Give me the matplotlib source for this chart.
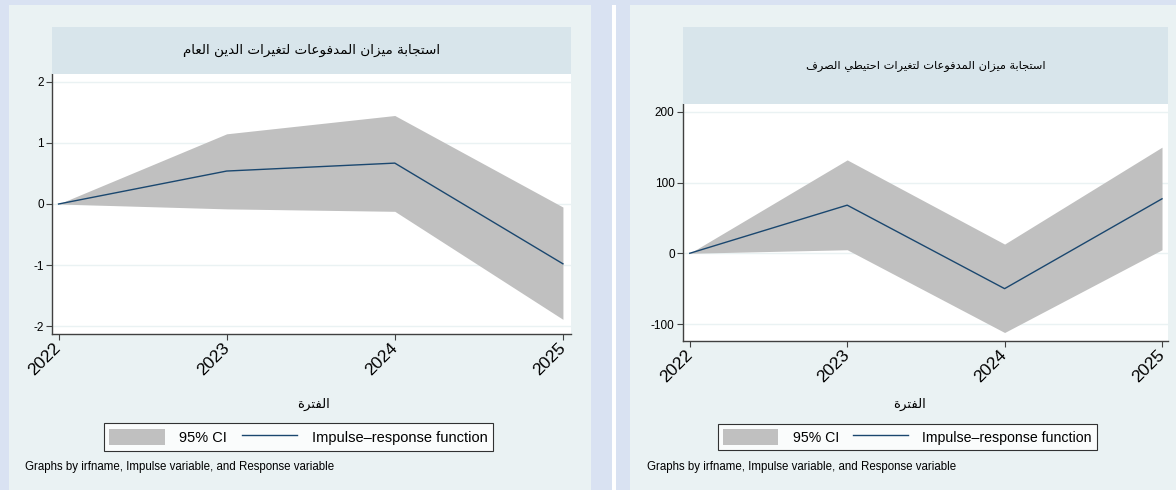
import matplotlib
matplotlib.use("Agg")
import matplotlib.pyplot as plt
from matplotlib.patches import Rectangle, Patch
from matplotlib.lines import Line2D

# ---------------- data ----------------
years = [2022, 2023, 2024, 2025]
year_labels = ["2022", "2023", "2024", "2025"]

debt_irf = [0.0, 0.54, 0.67, -0.98]
debt_lo = [0.0, -0.08, -0.12, -1.89]
debt_hi = [0.0, 1.15, 1.45, -0.05]
debt_yticks = [-2, -1, 0, 1, 2]

res_irf = [0.0, 68, -50, 77]
res_lo = [0.0, 5, -112, 5]
res_hi = [0.0, 132, 13, 150]
res_yticks = [-100, 0, 100, 200]

title_debt = "استجابة ميزان المدفوعات لتغيرات الدين العام"
title_res = "استجابة ميزان المدفوعات لتغيرات احتيطي الصرف"
xlabel_text = "الفترة"
legend_labels = ["95% CI", "Impulse\u2013response function"]
note_text = "Graphs by irfname, Impulse variable, and Response variable"

# ---------------- Arabic shaping (presentation forms) ----------------
FORMS = {
    'ا': (0xFE8D, 0xFE8E, None, None),
    'ب': (0xFE8F, 0xFE90, 0xFE91, 0xFE92),
    'ة': (0xFE93, 0xFE94, None, None),
    'ت': (0xFE95, 0xFE96, 0xFE97, 0xFE98),
    'ج': (0xFE9D, 0xFE9E, 0xFE9F, 0xFEA0),
    'ح': (0xFEA1, 0xFEA2, 0xFEA3, 0xFEA4),
    'د': (0xFEA9, 0xFEAA, None, None),
    'ر': (0xFEAD, 0xFEAE, None, None),
    'ز': (0xFEAF, 0xFEB0, None, None),
    'س': (0xFEB1, 0xFEB2, 0xFEB3, 0xFEB4),
    'ص': (0xFEB9, 0xFEBA, 0xFEBB, 0xFEBC),
    'ط': (0xFEC1, 0xFEC2, 0xFEC3, 0xFEC4),
    'ع': (0xFEC9, 0xFECA, 0xFECB, 0xFECC),
    'غ': (0xFECD, 0xFECE, 0xFECF, 0xFED0),
    'ف': (0xFED1, 0xFED2, 0xFED3, 0xFED4),
    'ل': (0xFEDD, 0xFEDE, 0xFEDF, 0xFEE0),
    'م': (0xFEE1, 0xFEE2, 0xFEE3, 0xFEE4),
    'ن': (0xFEE5, 0xFEE6, 0xFEE7, 0xFEE8),
    'و': (0xFEED, 0xFEEE, None, None),
    'ي': (0xFEF1, 0xFEF2, 0xFEF3, 0xFEF4),
}


def shape_ar(text):
    out = []
    n = len(text)
    for i, ch in enumerate(text):
        if ch not in FORMS:
            out.append(ch)
            continue
        prev = text[i - 1] if i > 0 else None
        nxt = text[i + 1] if i < n - 1 else None
        prev_join = prev in FORMS and FORMS[prev][2] is not None
        dual = FORMS[ch][2] is not None
        next_join = dual and nxt in FORMS
        iso, fin, ini, med = FORMS[ch]
        if prev_join and next_join:
            cp = med
        elif prev_join:
            cp = fin
        elif next_join:
            cp = ini
        else:
            cp = iso
        out.append(chr(cp))
    return "".join(out)[::-1]


# ---------------- figure ----------------
W, H = 1176, 490
fig = plt.figure(figsize=(W / 100, H / 100), dpi=100)
fig.patch.set_facecolor("#d9e2f2")

LAT = ["Liberation Sans", "DejaVu Sans"]
AR = ["DejaVu Sans"]
PANEL = "#eaf2f3"
TBOX = "#d8e5eb"
GRID = "#eaf2f3"
CI = "#c0c0c0"
NAVY = "#1a476f"
AXC = "#404040"


def rect(x0, y0, x1, y1, color, z=0):
    fig.add_artist(Rectangle((x0 / W, 1 - y1 / H), (x1 - x0) / W, (y1 - y0) / H,
                             transform=fig.transFigure, facecolor=color,
                             edgecolor="none", zorder=z))


# panels
rect(9, 5, 591, 490, PANEL)
rect(612, 5, 616, 490, "white")
rect(630, 5, 1176, 490, PANEL)


def panel(px0, px1, tb_top, plot_top, plot_bot, title, irf, lo, hi, yticks,
          ylim, xlim, xlab_x, legend_cx, note_x, title_fs, leg_fs, hlen):
    rect(px0, tb_top, px1, plot_top, TBOX, z=1)
    fig.text((px0 + px1) / 2 / W, 1 - (tb_top + plot_top) / 2 / H, shape_ar(title),
             ha="center", va="center", fontsize=title_fs, family=AR, color="black")
    ax = fig.add_axes([px0 / W, 1 - plot_bot / H, (px1 - px0) / W, (plot_bot - plot_top) / H])
    ax.set_facecolor("white")
    ax.fill_between(years, lo, hi, color=CI, linewidth=0, zorder=2)
    ax.plot(years, irf, color=NAVY, lw=1.0, zorder=3)
    ax.set_xlim(*xlim)
    ax.set_ylim(*ylim)
    ax.set_yticks(yticks)
    ax.set_yticklabels([str(v) for v in yticks], family=LAT, fontsize=8.5)
    ax.set_xticks(years)
    ax.set_xticklabels(year_labels, family=LAT, fontsize=12.5, rotation=45,
                       ha="right", va="center", rotation_mode="anchor")
    for t in yticks:
        ax.axhline(t, color=GRID, lw=1.0, zorder=1)
    for s in ["top", "right"]:
        ax.spines[s].set_visible(False)
    for s in ["left", "bottom"]:
        ax.spines[s].set_color(AXC)
        ax.spines[s].set_linewidth(1.0)
    ax.tick_params(axis="both", direction="out", length=4, width=0.8, color=AXC)
    ax.tick_params(axis="y", pad=2)
    ax.tick_params(axis="x", pad=4)
    fig.text(xlab_x / W, 1 - 404 / H, shape_ar(xlabel_text), ha="center", va="center",
             fontsize=9.5, family=AR)
    handles = [Patch(facecolor=CI, edgecolor="none"),
               Line2D([], [], color=NAVY, lw=1.0)]
    leg = fig.legend(handles, legend_labels, loc="center",
                     bbox_to_anchor=(legend_cx / W, 1 - 437 / H), ncol=2,
                     frameon=True, fancybox=False, prop={"family": LAT, "size": leg_fs},
                     handlelength=hlen, handleheight=1.4, handletextpad=1.0,
                     columnspacing=1.0, borderpad=0.35, borderaxespad=0)
    leg.get_frame().set_edgecolor("black")
    leg.get_frame().set_linewidth(0.8)
    leg.get_frame().set_facecolor("white")
    fig.text(note_x / W, 1 - 467 / H, note_text, ha="left", va="center",
             fontsize=8.3, family=LAT)
    return ax


panel(52, 571, 27, 74, 334, title_debt, debt_irf, debt_lo, debt_hi, debt_yticks,
      (-2.13, 2.13), (2021.961, 2025.048), 313, 298.5, 25, 9.7, 10.5, 3.8)
panel(683, 1168, 27, 104, 341, title_res, res_irf, res_lo, res_hi, res_yticks,
      (-124, 211), (2021.957, 2025.038), 910, 907.5, 647, 8.2, 10.2, 3.9)

fig.savefig("out.png", dpi=100, facecolor=fig.get_facecolor())
